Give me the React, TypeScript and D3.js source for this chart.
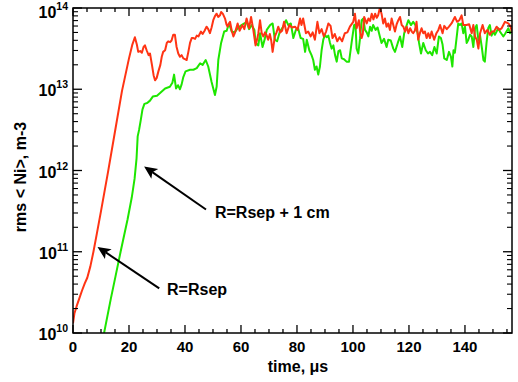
import React from "react";
import * as d3 from "d3";

// time (µs), log10 of rms <Ni> (m^-3)
const redSeries: [number, number][] = [[0,10.12],[0.5,10.24],[1.3,10.33],[2.2,10.42],[3.2,10.52],[4.2,10.61],[5.1,10.68],[6.2,10.82],[7.3,11.0],[8.5,11.22],[10,11.5],[12.5,11.98],[15,12.48],[17.5,12.98],[20,13.38],[21.2,13.55],[22.1,13.64],[22.8,13.55],[23.3,13.46],[24,13.47],[24.6,13.45],[25.2,13.52],[25.7,13.54],[26.3,13.48],[27,13.42],[27.5,13.44],[28.2,13.3],[28.8,13.17],[29.3,13.11],[29.9,13.14],[30.5,13.22],[31.2,13.3],[31.7,13.4],[32.2,13.46],[32.9,13.48],[33.5,13.57],[34,13.59],[34.7,13.58],[35.2,13.6],[35.8,13.67],[36.4,13.67],[37,13.52],[37.6,13.44],[38.2,13.4],[38.8,13.42],[39.4,13.38],[40,13.37],[40.6,13.36],[41.2,13.46],[41.8,13.57],[42.4,13.63],[43,13.63],[43.6,13.62],[44.2,13.66],[44.8,13.65],[45.7,13.71],[46.3,13.68],[47,13.72],[47.7,13.77],[48.3,13.74],[48.9,13.69],[49.5,13.76],[50.1,13.85],[50.7,13.9],[51.3,13.93],[51.9,13.89],[52.5,13.91],[52.9,13.95],[53.5,13.93],[54.3,13.87],[54.8,13.8],[55.2,13.77],[55.6,13.8],[56.1,13.83],[56.7,13.72],[57.3,13.65],[57.9,13.7],[58.8,13.81],[59.5,13.72],[60.5,13.79],[61.2,13.74],[62,13.87],[62.9,13.75],[63.6,13.89],[64.4,13.73],[65.2,13.54],[65.8,13.62],[66.2,13.69],[66.8,13.85],[67.4,13.69],[68,13.65],[68.6,13.7],[69.1,13.67],[69.7,13.61],[70.3,13.68],[70.8,13.6],[71.3,13.46],[72.1,13.65],[72.7,13.7],[73.3,13.77],[74,13.7],[74.7,13.72],[75.4,13.83],[76.3,13.69],[77.3,13.79],[78.2,13.76],[79.3,13.77],[80.2,13.73],[81.1,13.87],[81.6,13.79],[82.2,13.87],[83.2,13.69],[84,13.71],[84.9,13.65],[85.6,13.7],[86.4,13.61],[87.3,13.83],[88,13.69],[88.8,13.74],[89.6,13.65],[90.4,13.71],[91.2,13.81],[92,13.78],[92.7,13.63],[93.5,13.68],[94.4,13.59],[95.2,13.64],[96.1,13.59],[97.1,13.69],[98,13.7],[98.9,13.77],[100.1,13.83],[100.7,13.93],[101.3,13.75],[102.1,13.85],[102.6,13.7],[103.1,13.63],[103.5,13.68],[104,13.89],[104.9,13.81],[105.5,13.87],[106.1,13.84],[106.7,13.93],[107.3,13.86],[107.9,13.93],[108.5,13.88],[109,13.91],[109.6,14.0],[110.2,13.93],[110.8,13.81],[111.4,13.87],[112,13.77],[112.6,13.81],[113.2,13.73],[113.8,13.87],[114.4,13.79],[115,13.71],[115.6,13.8],[116.2,13.85],[116.8,13.89],[117.4,13.79],[118,13.77],[118.6,13.71],[119.2,13.77],[119.8,13.69],[120.4,13.75],[121,13.71],[121.5,13.69],[122.1,13.72],[122.7,13.83],[123.3,13.61],[123.9,13.69],[124.5,13.75],[125.1,13.69],[125.7,13.71],[126.3,13.63],[126.9,13.69],[127.5,13.63],[128.1,13.71],[129,13.61],[129.8,13.69],[130.5,13.73],[131.1,13.79],[132,13.69],[132.6,13.78],[133.5,13.74],[134.3,13.77],[135.2,13.81],[136.4,13.89],[137.2,13.83],[138,13.85],[138.8,13.91],[139.4,13.79],[140.5,13.79],[141.5,13.8],[142.4,13.69],[143,13.79],[143.6,13.65],[144.2,13.61],[144.8,13.5],[145.4,13.69],[146.3,13.79],[147.1,13.69],[148,13.73],[148.9,13.67],[149.6,13.71],[150.4,13.71],[151.3,13.77],[152.2,13.73],[153.1,13.75],[154.3,13.83],[155.5,13.81],[156.3,13.77],[156.8,13.7]];

const greenSeries: [number, number][] = [[11.1,10.0],[13.5,10.42],[15.2,10.7],[17,11.0],[19.5,11.4],[21,11.67],[22,11.9],[22.7,12.15],[23.1,12.42],[23.6,12.5],[24.2,12.62],[24.8,12.75],[25.5,12.82],[26.5,12.83],[27.5,12.86],[28.5,12.91],[30,12.92],[31,12.95],[32.9,13.01],[34.6,13.03],[35.5,13.08],[36.1,13.18],[36.8,13.01],[37.5,13.05],[38.2,13.0],[38.8,13.06],[39.4,13.15],[40.2,13.22],[41.8,13.24],[43,13.24],[44.2,13.26],[45.4,13.32],[46.3,13.3],[47.4,13.36],[48.3,13.28],[49.5,13.09],[50.7,12.93],[51.3,13.03],[51.9,13.36],[52.9,13.57],[54,13.71],[54.9,13.72],[55.7,13.81],[56.7,13.71],[57.7,13.7],[58.8,13.75],[60.2,13.79],[61.2,13.81],[62,13.83],[62.9,13.74],[63.8,13.79],[64.8,13.73],[65.2,13.57],[66.2,13.54],[66.8,13.69],[67.7,13.52],[68.5,13.62],[69.2,13.73],[70.4,13.79],[71.3,13.81],[72.1,13.61],[72.9,13.59],[73.9,13.71],[75.1,13.77],[76.1,13.85],[76.9,13.79],[77.8,13.81],[78.7,13.63],[79.6,13.73],[80.4,13.75],[81.3,13.63],[82.2,13.62],[82.9,13.46],[83.5,13.61],[84.4,13.48],[85.2,13.42],[85.8,13.36],[86.4,13.24],[87,13.28],[87.6,13.18],[88.2,13.28],[88.8,13.48],[89.4,13.61],[90,13.67],[90.6,13.64],[91.2,13.66],[91.8,13.57],[92.4,13.5],[93,13.54],[93.6,13.42],[94.2,13.34],[94.8,13.47],[95.4,13.48],[96,13.38],[96.8,13.37],[97.7,13.34],[98.6,13.34],[99.5,13.57],[100.4,13.79],[100.9,13.8],[101.3,13.5],[101.9,13.44],[102.5,13.62],[103.1,13.85],[103.7,13.87],[104.3,13.73],[104.9,13.7],[105.5,13.65],[106.1,13.77],[106.7,13.72],[107.2,13.79],[108.1,13.73],[108.8,13.76],[109.6,13.65],[110.2,13.57],[111.1,13.62],[112,13.52],[112.6,13.61],[113.5,13.6],[114.4,13.5],[115,13.46],[116,13.57],[116.8,13.65],[117.6,13.52],[118.3,13.69],[119.2,13.79],[119.8,13.85],[120.7,13.79],[121.5,13.83],[122.3,13.79],[123.1,13.69],[123.6,13.57],[124.3,13.44],[125.1,13.57],[126,13.48],[126.8,13.44],[127.5,13.46],[128.3,13.42],[129.1,13.52],[129.9,13.44],[130.7,13.65],[131.4,13.63],[132,13.55],[132.6,13.38],[133.5,13.36],[134.3,13.46],[135,13.4],[135.5,13.28],[135.9,13.48],[136.4,13.45],[137,13.63],[137.6,13.81],[138.2,13.79],[138.8,13.81],[139.4,13.69],[140,13.77],[140.6,13.57],[141.2,13.61],[141.8,13.67],[142.4,13.65],[143,13.52],[143.6,13.75],[144.2,13.79],[144.8,13.6],[145.4,13.66],[146,13.52],[146.6,13.36],[147.1,13.34],[147.7,13.57],[148.3,13.75],[148.9,13.79],[149.5,13.66],[150.1,13.71],[150.7,13.67],[151.9,13.75],[152.5,13.71],[153.1,13.68],[153.7,13.65],[154.3,13.68],[155.5,13.75],[156.1,13.69],[156.7,13.72]];

const xTicks = [0, 20, 40, 60, 80, 100, 120, 140];
const yDecadeExponents = [10, 11, 12, 13, 14];
const xTitle = "time, \u03bcs";
const yTitle = "rms < Ni>, m-3";
const annotations = [
  { label: "R=Rsep + 1 cm", tip: [25.4, 12.05], tail: [47.5, 11.52], text: [50.7, 11.42] },
  { label: "R=Rsep", tip: [8.75, 11.06], tail: [30.8, 10.55], text: [33.6, 10.47] },
];

const W = 518, H = 382;
const L = 73, R = 512, T = 8, B = 333;
const FONT = "'Liberation Sans', Arial, Helvetica, sans-serif";

export default function App() {
  const x = d3.scaleLinear().domain([0, 156.8]).range([L, R]);
  const y = d3.scaleLog().domain([1e10, 1e14]).range([B, T]);
  const line = d3.line<[number, number]>()
    .x((d) => x(d[0]))
    .y((d) => y(Math.pow(10, d[1])));

  const xMinor = d3.range(0, 157, 5);
  const yMinor: number[] = [];
  yDecadeExponents.slice(0, -1).forEach((e) => {
    for (let k = 2; k <= 9; k++) yMinor.push(k * Math.pow(10, e));
  });

  const arrow = (a: typeof annotations[number], i: number) => {
    const tx = x(a.tip[0]), ty = y(Math.pow(10, a.tip[1]));
    const sx = x(a.tail[0]), sy = y(Math.pow(10, a.tail[1]));
    const ang = Math.atan2(ty - sy, tx - sx);
    const len = 13, hw = 6;
    const bx = tx - len * Math.cos(ang), by = ty - len * Math.sin(ang);
    const px = -Math.sin(ang) * hw, py = Math.cos(ang) * hw;
    const nx = tx - (len - 3) * Math.cos(ang), ny = ty - (len - 3) * Math.sin(ang);
    return (
      <g key={i}>
        <line x1={sx} y1={sy} x2={nx} y2={ny} stroke="#000" strokeWidth={2} />
        <polygon points={`${tx},${ty} ${bx + px},${by + py} ${nx},${ny} ${bx - px},${by - py}`} fill="#000" />
        <text x={x(a.text[0])} y={y(Math.pow(10, a.text[1]))} fontSize={16} fontWeight="bold" fontFamily={FONT}>{a.label}</text>
      </g>
    );
  };

  return (
    <svg width={W} height={H} style={{ position: "absolute", left: 0, top: 0, background: "#fff" }}>
      <defs>
        <clipPath id="plotclip">
          <rect x={L} y={T} width={R - L} height={B - T} />
        </clipPath>
      </defs>
      <g clipPath="url(#plotclip)" fill="none" strokeWidth={2} strokeLinejoin="round">
        <path d={line(greenSeries) || ""} stroke="#1ee600" />
        <path d={line(redSeries) || ""} stroke="#ff3414" />
      </g>
      {/* frame */}
      <rect x={L} y={T} width={R - L} height={B - T} fill="none" stroke="#000" strokeWidth={1.5} />
      {/* x ticks */}
      {xMinor.map((v) => {
        const major = v % 20 === 0;
        const len = major ? 8 : 4;
        return (
          <g key={"xt" + v} stroke="#000" strokeWidth={1.3}>
            <line x1={x(v)} x2={x(v)} y1={B} y2={B - len} />
            <line x1={x(v)} x2={x(v)} y1={T} y2={T + len} />
          </g>
        );
      })}
      {/* y ticks */}
      {yDecadeExponents.map((e) => (
        <g key={"ym" + e} stroke="#000" strokeWidth={1.3}>
          <line x1={L} x2={L + 9} y1={y(Math.pow(10, e))} y2={y(Math.pow(10, e))} />
          <line x1={R} x2={R - 9} y1={y(Math.pow(10, e))} y2={y(Math.pow(10, e))} />
        </g>
      ))}
      {yMinor.map((v, i) => (
        <g key={"yn" + i} stroke="#000" strokeWidth={1.1}>
          <line x1={L} x2={L + 5} y1={y(v)} y2={y(v)} />
          <line x1={R} x2={R - 5} y1={y(v)} y2={y(v)} />
        </g>
      ))}
      {/* x labels */}
      {xTicks.map((v) => (
        <text key={"xl" + v} x={x(v)} y={B + 19} textAnchor="middle" fontSize={15} fontWeight="bold" fontFamily={FONT}>{v}</text>
      ))}
      {/* y labels */}
      {yDecadeExponents.map((e) => (
        <text key={"yl" + e} x={L - 5} y={y(Math.pow(10, e)) + 7 + (e === 14 ? 3 : 0)} textAnchor="end" fontWeight="bold" fontFamily={FONT}>
          <tspan fontSize={16}>10</tspan>
          <tspan fontSize={10.5} dy={-8}>{e}</tspan>
        </text>
      ))}
      <text x={298} y={372} textAnchor="middle" fontSize={16} fontWeight="bold" fontFamily={FONT}>{xTitle}</text>
      <text transform={`translate(26,177) rotate(-90)`} textAnchor="middle" fontSize={16} fontWeight="bold" fontFamily={FONT}>{yTitle}</text>
      {annotations.map(arrow)}
    </svg>
  );
}
